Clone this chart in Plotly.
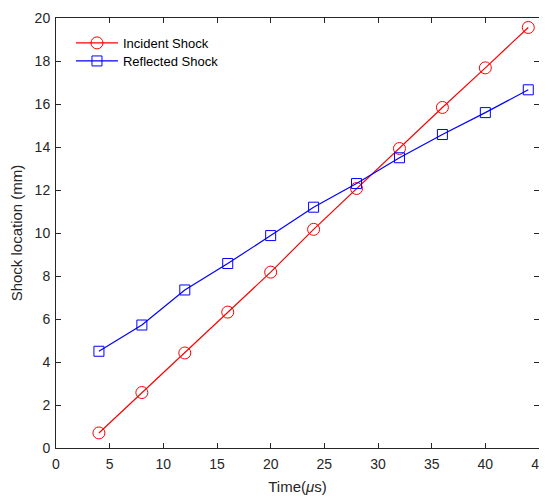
import plotly.graph_objects as go

time_us = [4, 8, 12, 16, 20, 24, 28, 32, 36, 40, 44]
incident_shock = [0.70, 2.58, 4.42, 6.32, 8.18, 10.17, 12.07, 13.93, 15.84, 17.68, 19.56]
reflected_shock = [4.50, 5.72, 7.35, 8.58, 9.88, 11.20, 12.30, 13.50, 14.58, 15.60, 16.66]

font_family = "Liberation Sans, Arial"

fig = go.Figure()
fig.add_trace(go.Scatter(
    x=time_us, y=incident_shock, mode="lines+markers", name="Incident Shock",
    line=dict(color="#ff0000", width=1.2), legend="legend",
    marker=dict(symbol="circle-open", size=12, color="#ff0000", line=dict(width=1))))
fig.add_trace(go.Scatter(
    x=time_us, y=reflected_shock, mode="lines+markers", name="Reflected Shock",
    line=dict(color="#0000ff", width=1.2), legend="legend2",
    marker=dict(symbol="square-open", size=10, color="#0000ff", line=dict(width=1))))

axis_common = dict(
    showgrid=False, zeroline=False, showline=True, linecolor="#262626", linewidth=1,
    mirror="ticks", ticks="inside", ticklen=5, tickcolor="#262626", automargin=False,
    tickfont=dict(family=font_family, size=14, color="#262626"),
)
fig.update_xaxes(range=[0, 45], dtick=5, tick0=0, ticklabelstandoff=3,
                 title=dict(text="Time(<i>μ</i>s)", font=dict(family=font_family, size=15, color="#262626"), standoff=10),
                 **axis_common)
fig.update_yaxes(range=[0, 20], dtick=2, tick0=0, ticklabelstandoff=2,
                 title=dict(text="Shock location (mm)", font=dict(family=font_family, size=15, color="#262626"), standoff=8),
                 **axis_common)

legend_common = dict(xanchor="left", yanchor="middle", bgcolor="rgba(255,255,255,0)", borderwidth=0,
                     font=dict(family=font_family, size=13, color="#000000"), itemwidth=42)
fig.update_layout(
    width=539, height=490,
    margin=dict(l=48, r=8, t=10, b=50),
    paper_bgcolor="white", plot_bgcolor="white",
    showlegend=True,
    legend=dict(x=0.031, y=0.942, **legend_common),
    legend2=dict(x=0.031, y=0.90, **legend_common),
)

fig.write_html("out.html")
